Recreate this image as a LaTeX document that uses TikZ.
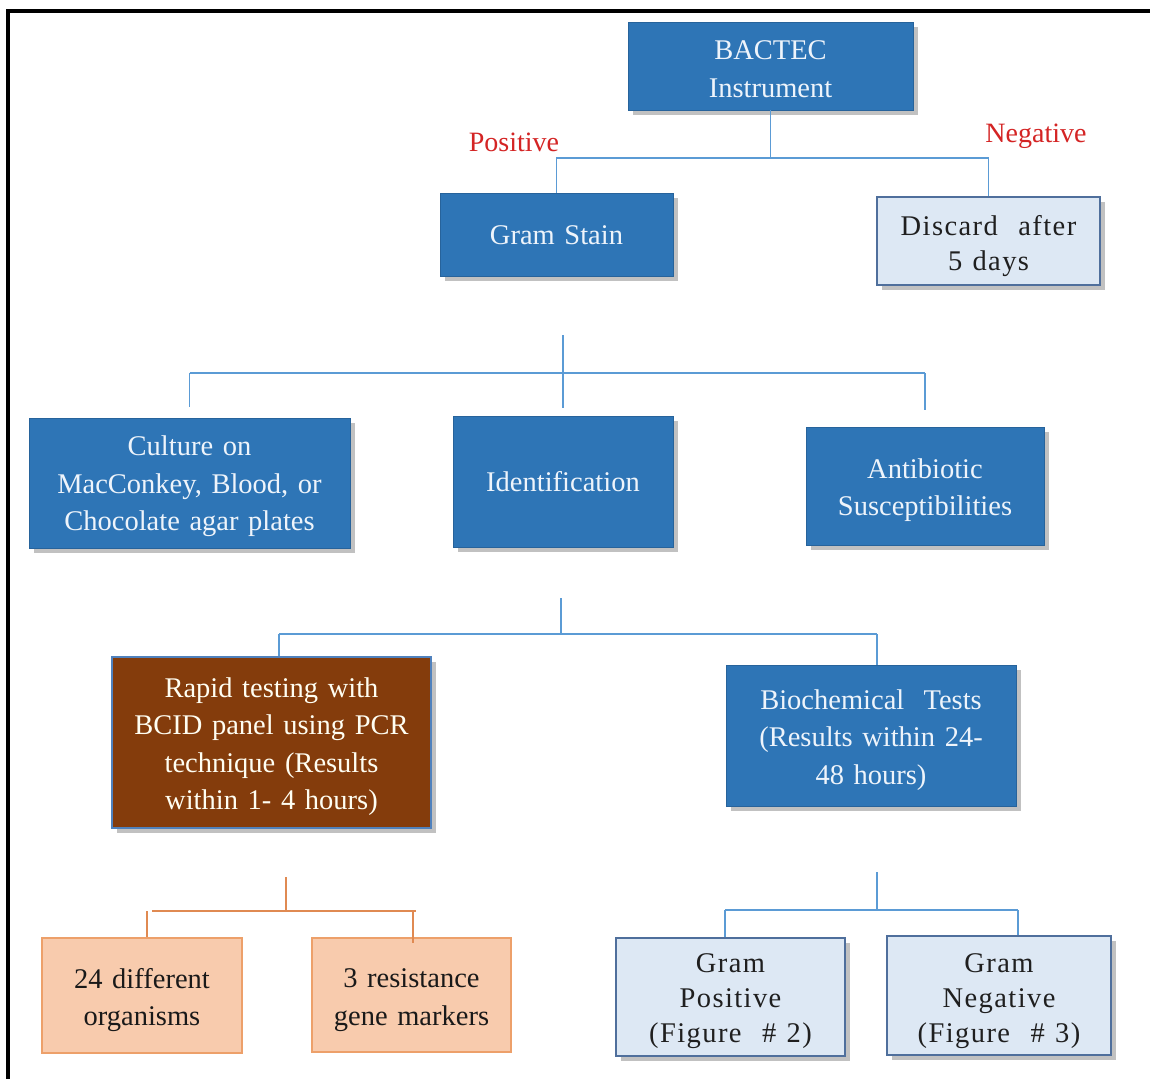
\documentclass[tikz,border=0pt]{standalone}
\usepackage{fontspec}
\setmainfont[WordSpace=1.35]{Liberation Serif}
\newfontfamily\spacedfont[LetterSpace=5,WordSpace=1.2]{Liberation Serif}
\usetikzlibrary{shadows}
\newcommand\lowr[2]{\raisebox{-#1pt}[\height][\depth]{#2}}
\definecolor{boxblue}{HTML}{2E75B6}
\definecolor{bluetext}{HTML}{EEF4FB}
\definecolor{lightfill}{HTML}{DDE8F4}
\definecolor{lightborder}{HTML}{4F6F9C}
\definecolor{connblue}{HTML}{5B9BD5}
\definecolor{brownfill}{HTML}{843C0C}
\definecolor{brownborder}{HTML}{4F81BD}
\definecolor{orangefill}{HTML}{F8CBAD}
\definecolor{orangeborder}{HTML}{EDA06A}
\definecolor{connorange}{HTML}{E08A52}
\definecolor{labelred}{HTML}{D42424}
\begin{document}
\begin{tikzpicture}[x=1pt,y=-1pt,
  boxfont/.style={font=\fontsize{28.5}{37.5}\selectfont},
  tightfont/.style={font=\fontsize{28.5}{35}\selectfont},
  shade box/.style={drop shadow={shadow xshift=5pt,shadow yshift=-5pt,opacity=0.4,fill=black!60}},
  bluebox/.style={boxfont,shade box,fill=boxblue,draw=boxblue!85!black,line width=0.8pt,text=bluetext,align=center,inner sep=0pt},
  lightbox/.style={tightfont,shade box,fill=lightfill,draw=lightborder,line width=2.5pt,text=black!88,align=center,inner sep=0pt},
  brownbox/.style={boxfont,shade box,fill=brownfill,draw=brownborder,line width=2.5pt,text=white!95!yellow,align=center,inner sep=0pt},
  orangebox/.style={boxfont,fill=orangefill,draw=orangeborder,line width=1.5pt,text=black!90,align=center,inner sep=0pt},
  conn/.style={draw=connblue,line width=1.8pt},
  connor/.style={draw=connorange,line width=1.8pt},
  redlabel/.style={font=\fontsize{28}{34}\selectfont,text=labelred,inner sep=0pt}
]
\useasboundingbox (0,0) rectangle (1150,1078);
\clip (0,0) rectangle (1150,1078);
\fill[white] (0,0) rectangle (1150,1078);
\draw[line width=4pt] (8,11) rectangle (1180,1110);

% boxes
\node[bluebox,minimum width=285pt,minimum height=88pt] (bactec) at (770.5,66) {\lowr{3}{BACTEC}\\\lowr{3}{Instrument}};
\node[bluebox,minimum width=233pt,minimum height=83pt] (gram) at (556.5,234.5) {\lowr{1}{Gram Stain}};
\node[lightbox,minimum width=223pt,minimum height=88pt] (discard) at (988.5,241) {\lowr{5}{\spacedfont Discard\ \ after}\\\lowr{5}{\spacedfont 5 days}};

\node[bluebox,minimum width=321pt,minimum height=130pt] (culture) at (189.5,483) {\lowr{3.5}{Culture on}\\\lowr{3.5}{MacConkey, Blood, or}\\\lowr{3.5}{Chocolate agar plates}};
\node[bluebox,minimum width=220pt,minimum height=131pt] (ident) at (563,481.5) {Identification};
\node[bluebox,minimum width=238pt,minimum height=118pt] (anti) at (925,486) {\lowr{4}{Antibiotic}\\\lowr{4}{Susceptibilities}};

\node[brownbox,minimum width=319pt,minimum height=171pt] (rapid) at (271.5,742.5) {\lowr{4}{Rapid testing with}\\\lowr{4}{BCID panel using PCR}\\\lowr{4}{technique (Results}\\\lowr{4}{within 1- 4 hours)}};
\node[bluebox,minimum width=290pt,minimum height=141pt] (bio) at (871,735.5) {\lowr{4.5}{Biochemical\ \ Tests}\\\lowr{4.5}{(Results within 24-}\\\lowr{4.5}{48 hours)}};

\node[orangebox,minimum width=200pt,minimum height=115pt] (org) at (142,995.5) {\lowr{4.5}{24 different}\\\lowr{4.5}{organisms}};
\node[orangebox,minimum width=199pt,minimum height=114pt] (res) at (411.5,995) {\lowr{5}{3 resistance}\\\lowr{5}{gene markers}};
\node[lightbox,minimum width=229pt,minimum height=118pt] (gpos) at (730.5,997) {\lowr{4}{\spacedfont Gram}\\\lowr{4}{\spacedfont Positive}\\\lowr{4}{\spacedfont (Figure\ \ \# 2)}};
\node[lightbox,minimum width=224pt,minimum height=119pt] (gneg) at (999,995.5) {\lowr{6}{\spacedfont Gram}\\\lowr{6}{\spacedfont Negative}\\\lowr{6}{\spacedfont (Figure\ \ \# 3)}};

% labels
\node[redlabel] (pos) at (514,142) {Positive};
\node[redlabel] (neg) at (1036,136) {Negative};

% tier 1 connectors
\coordinate (t1) at (770.5,158);
\draw[conn] (bactec.south) -- (t1);
\draw[conn] (gram.north) |- (t1) -| (discard.north);

% tier 2 connectors
\coordinate (t2a) at (563,335);
\coordinate (t2) at (563,373);
\draw[conn] (culture.north |- t2) -- (anti.north |- t2);
\draw[conn,shorten >=8pt] (t2a) -- (ident.north);
\draw[conn,shorten >=11pt] (culture.north |- t2) -- (culture.north);
\draw[conn,shorten >=17pt] (anti.north |- t2) -- (anti.north);

% tier 3 connectors
\coordinate (t3a) at (561,598);
\coordinate (t3) at (561,634);
\coordinate (r3) at (279,634);
\coordinate (b3) at (877,634);
\draw[conn] (t3a) -- (t3);
\draw[conn] (r3) -- (b3);
\draw[conn] (r3) -- (r3 |- rapid.north);
\draw[conn] (b3) -- (b3 |- bio.north);

% tier 4 left connectors
\coordinate (t4a) at (286,877);
\coordinate (t4) at (286,911);
\coordinate (o4) at (147,911);
\coordinate (s4) at (413,911);
\draw[connor] (t4a) -- (t4);
\draw[connor] (152,911) -- (416,911);
\draw[connor] (o4) -- (o4 |- org.north);
\draw[connor] (s4) -- ([yshift=-6pt]s4 |- res.north);

% tier 4 right connectors
\coordinate (u4a) at (877,872);
\coordinate (u4) at (877,910);
\coordinate (p4) at (725,910);
\coordinate (n4) at (1018,910);
\draw[conn] (u4a) -- (u4);
\draw[conn] (p4) -- (n4);
\draw[conn] (p4) -- (p4 |- gpos.north);
\draw[conn] (n4) -- (n4 |- gneg.north);
\end{tikzpicture}
\end{document}
